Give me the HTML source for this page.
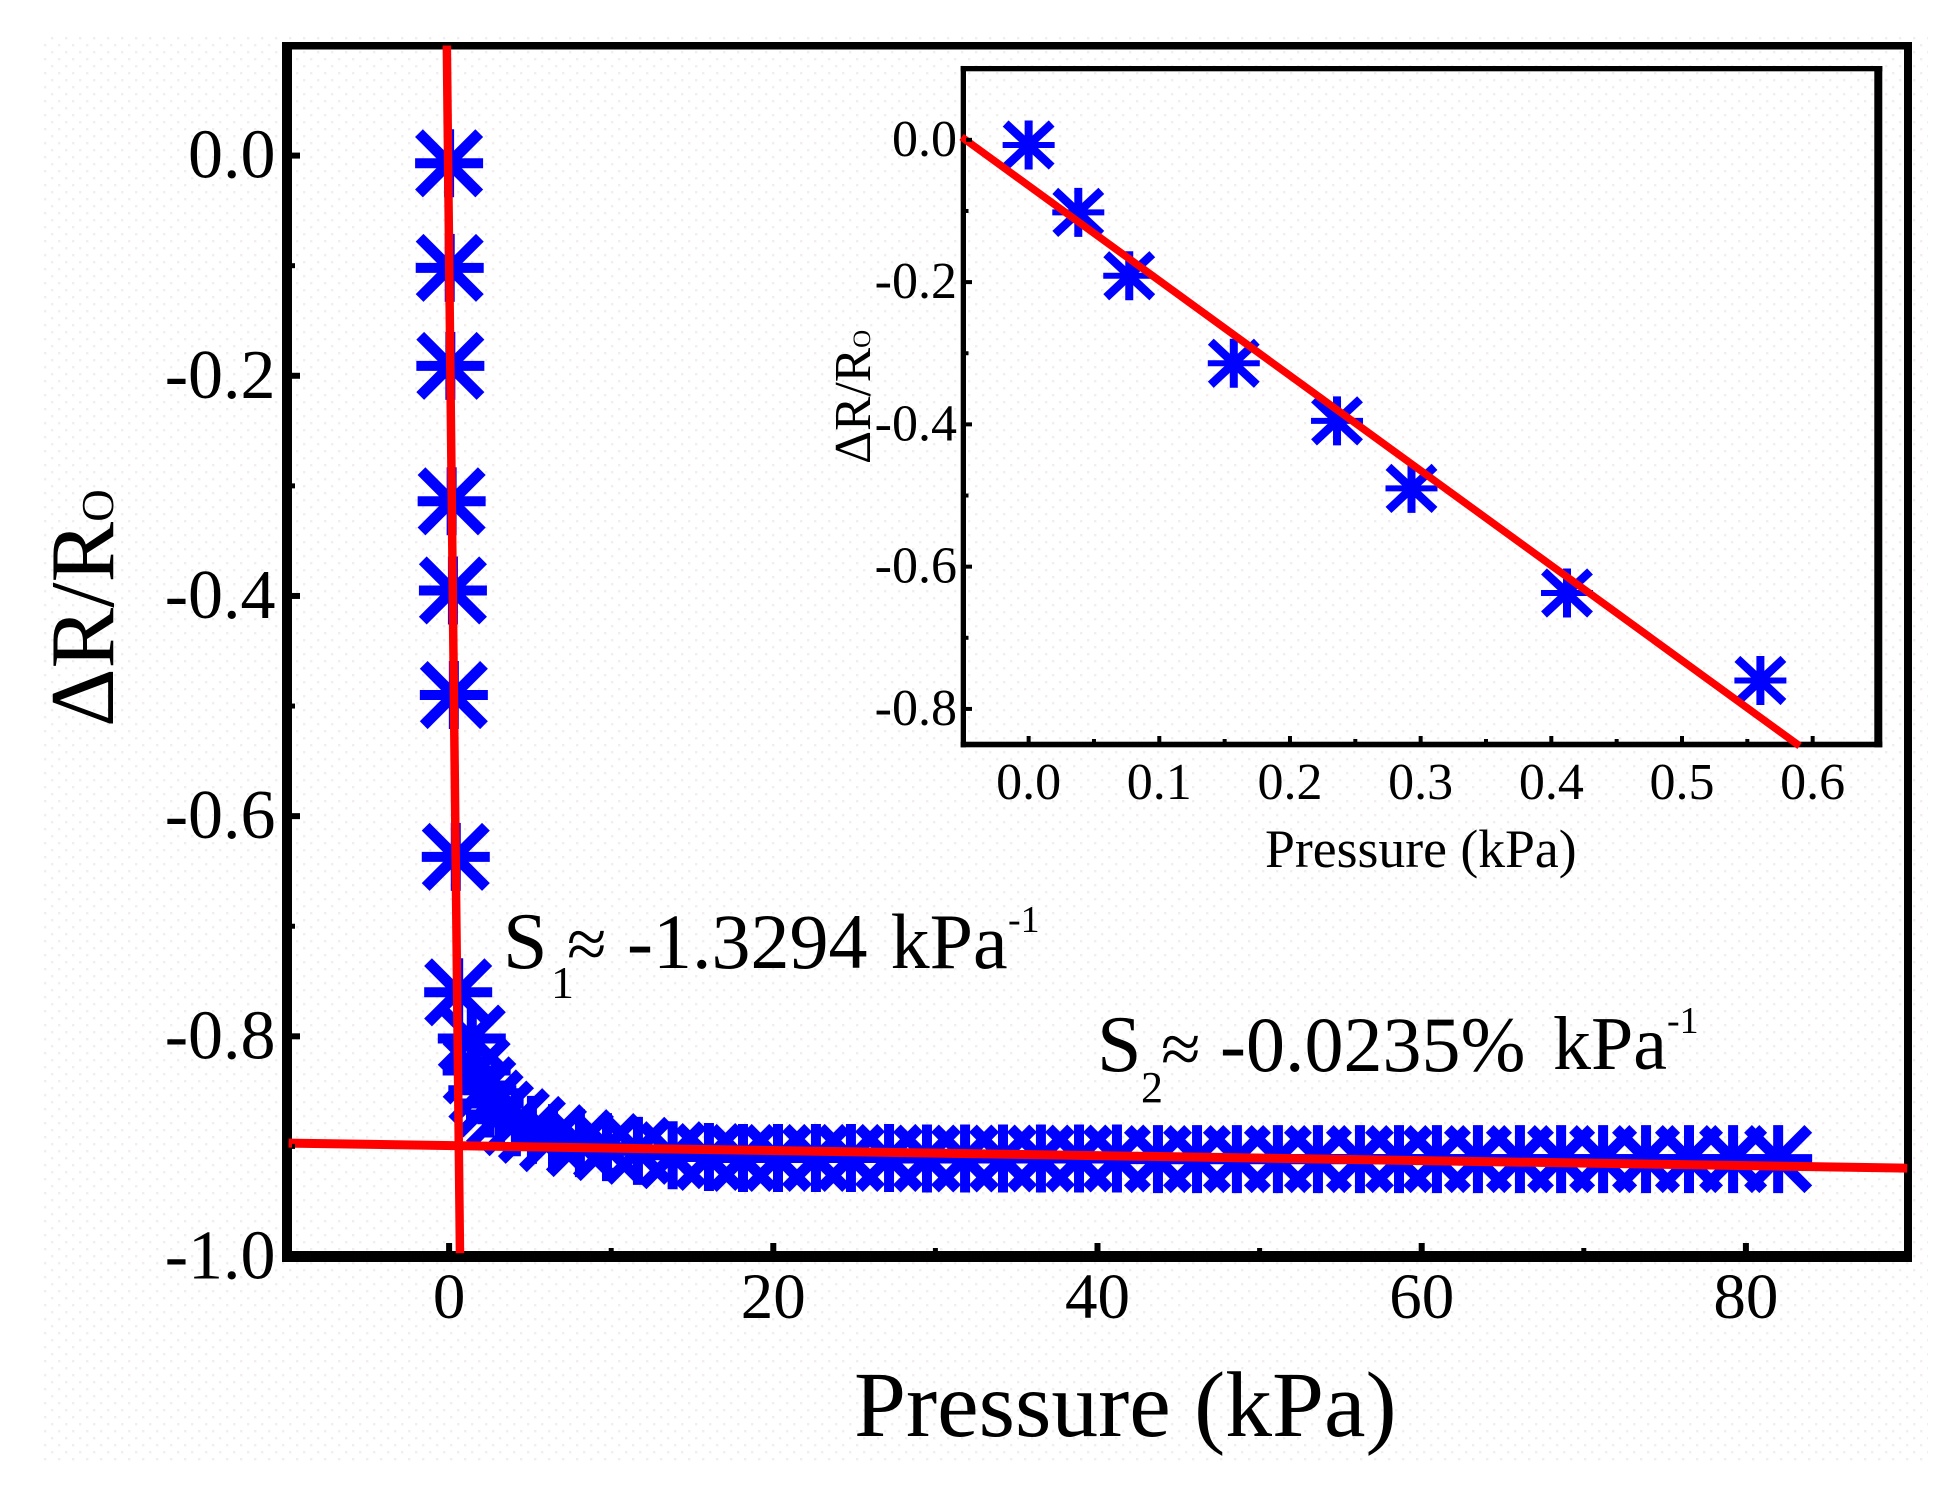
<!DOCTYPE html>
<html lang="en">
<head>
<meta charset="utf-8">
<title>Pressure response chart</title>
<style>
html,body{margin:0;padding:0;background:#fff;}
svg{display:block;}
text{font-family:"Liberation Serif","Times New Roman",serif;fill:#000;}
</style>
</head>
<body>
<svg id="chart" xmlns="http://www.w3.org/2000/svg" width="1945" height="1490" viewBox="0 0 1945 1490">
  <defs>
    <pattern id="speckle" width="14" height="14" patternUnits="userSpaceOnUse">
      <rect x="2" y="2" width="2.4" height="2.4" fill="#f3eeee"/>
      <rect x="9" y="9" width="2.4" height="2.4" fill="#f3eeee"/>
    </pattern>
  </defs>
  <rect width="1945" height="1490" fill="#fff"/>
  <rect x="40" y="33" width="1888" height="1429" fill="url(#speckle)"/>

  <g id="main-plot"></g>
  <g id="inset-plot"></g>

  <g fill="#000">
    <rect x="282" y="42" width="10" height="1220"/>
    <rect x="282" y="42" width="1630" height="7.5"/>
    <rect x="1904" y="42" width="8" height="1220"/>
    <rect x="282" y="1251" width="1630" height="11"/>
  </g>
  <g fill="#000">
    <rect x="960.7" y="66" width="5.3" height="681.3"/>
    <rect x="960.7" y="66" width="921.6" height="5.3"/>
    <rect x="1874.3" y="66" width="8" height="681.3"/>
    <rect x="960.7" y="741.7" width="921.6" height="5.6"/>
  </g>

  <g id="fit-lines"></g>
  <g id="tick-layer"></g>

  <text transform="translate(113 727) rotate(-90)" font-size="91">ΔR/R<tspan font-size="45">O</tspan></text>
  <text x="854" y="1436" font-size="93.5">Pressure (kPa)</text>
  <text transform="translate(870 464) rotate(-90)" font-size="51.5">ΔR/R<tspan font-size="25">O</tspan></text>
  <text x="1265" y="867" font-size="53.7">Pressure (kPa)</text>

  <g>
    <text x="503" y="968" font-size="80">S</text>
    <text x="551" y="998" font-size="46">1</text>
    <text x="567" y="968" font-size="72">≈</text>
    <text x="627" y="968" font-size="78">-1.3294</text>
    <text x="890.6" y="968" font-size="78">kPa</text>
    <text x="1008" y="932" font-size="38">-1</text>
  </g>
  <g>
    <text x="1097" y="1071" font-size="80">S</text>
    <text x="1141" y="1102" font-size="44">2</text>
    <text x="1161" y="1073" font-size="72">≈</text>
    <text x="1220" y="1071" font-size="78">-0.0235%</text>
    <text x="1553" y="1069" font-size="76">kPa</text>
    <text x="1667" y="1033" font-size="38">-1</text>
  </g>
</svg>

<script>
// ---- main chart data ----
const mainPressure = [0, 0.038, 0.077, 0.157, 0.236, 0.293, 0.412, 0.56, 1.4, 1.7, 2.05, 2.5, 3.14, 4.12, 5.11, 6.41, 8.07, 9.74, 11.65, 13.79, 16.03, 18.13, 20.29, 22.63, 24.79, 27.14, 29.48, 31.83, 34.17, 36.51, 38.86, 41.2, 43.73, 46.14, 48.6, 51.13, 53.6, 56.19, 58.6, 60.94, 63.47, 66.06, 68.6, 71.19, 73.84, 76.49, 79.21, 81.99];
const mainResponse = [-0.007, -0.102, -0.191, -0.314, -0.395, -0.49, -0.637, -0.76, -0.802, -0.831, -0.849, -0.861, -0.871, -0.878, -0.885, -0.8925, -0.897, -0.9006, -0.904, -0.908, -0.9096, -0.9105, -0.9105, -0.9105, -0.9105, -0.9105, -0.911, -0.911, -0.911, -0.911, -0.911, -0.911, -0.9115, -0.9115, -0.9115, -0.9115, -0.9115, -0.9115, -0.9115, -0.9115, -0.9115, -0.9115, -0.9115, -0.9115, -0.9115, -0.9115, -0.9115, -0.9115];
const fit1Pressure = [-0.14, 0.67];
const fit1Response = [0.1, -0.997];
const fit2Pressure = [-9.9, 89.95];
const fit2Response = [-0.897, -0.9197];
const mainXMajor = [0, 20, 40, 60, 80];
const mainXMajorLabels = ["0", "20", "40", "60", "80"];
const mainXMinor = [10, 30, 50, 70];
const mainYMajor = [0, -0.2, -0.4, -0.6, -0.8, -1.0];
const mainYMajorLabels = ["0.0", "-0.2", "-0.4", "-0.6", "-0.8", "-1.0"];
const mainYMinor = [-0.1, -0.3, -0.5, -0.7, -0.9];

// ---- inset chart data ----
const insetPressure = [0, 0.038, 0.077, 0.157, 0.236, 0.293, 0.412, 0.56];
const insetResponse = [-0.0073, -0.102, -0.191, -0.314, -0.395, -0.49, -0.637, -0.76];
const insetFitPressure = [-0.0513, 0.59];
const insetFitResponse = [0.004, -0.852];
const insetXMajor = [0, 0.1, 0.2, 0.3, 0.4, 0.5, 0.6];
const insetXMajorLabels = ["0.0", "0.1", "0.2", "0.3", "0.4", "0.5", "0.6"];
const insetXMinor = [0.05, 0.15, 0.25, 0.35, 0.45, 0.55];
const insetYMajor = [0, -0.2, -0.4, -0.6, -0.8];
const insetYMajorLabels = ["0.0", "-0.2", "-0.4", "-0.6", "-0.8"];
const insetYMinor = [-0.1, -0.3, -0.5, -0.7];

// ---- axis functions ----
function mainX(v){ return 287 + (v + 10) / 100 * (1908 - 287); }
function mainY(v){ return 45.5 + (0.1 - v) / 1.1 * (1256.5 - 45.5); }
function insetX(v){ return 963.3 + (v + 0.05) / 0.7 * (1878 - 963.3); }
function insetY(v){ return 68.7 + (0.1 - v) / 0.95 * (744.5 - 68.7); }

const NS = 'http://www.w3.org/2000/svg';
const mainGroup = document.getElementById('main-plot');
const insetGroup = document.getElementById('inset-plot');
const fitGroup = document.getElementById('fit-lines');
const tickGroup = document.getElementById('tick-layer');

function seg(parent, x1, y1, x2, y2, color, width){
  const l = document.createElementNS(NS, 'line');
  l.setAttribute('x1', x1);
  l.setAttribute('y1', y1);
  l.setAttribute('x2', x2);
  l.setAttribute('y2', y2);
  l.setAttribute('stroke', color);
  l.setAttribute('stroke-width', width);
  parent.appendChild(l);
  return l;
}

function marker(parent, cx, cy, hw, hh, vW, hW, dW){
  const g = document.createElementNS(NS, 'g');
  
  
  seg(g, cx, cy - hh, cx, cy + hh, '#0000ff', vW);
  seg(g, cx - hw, cy, cx + hw, cy, '#0000ff', hW);
  const dx = hw - dW * 0.35, dy = hh - dW * 0.35;
  seg(g, cx - dx, cy - dy, cx + dx, cy + dy, '#0000ff', dW);
  seg(g, cx - dx, cy + dy, cx + dx, cy - dy, '#0000ff', dW);
  parent.appendChild(g);
}

function label(str, x, y, size, anchor, name){
  const t = document.createElementNS(NS, 'text');
  t.setAttribute('x', x);
  t.setAttribute('y', y);
  t.setAttribute('font-size', size);
  t.setAttribute('text-anchor', anchor);
  
  
  t.textContent = str;
  document.getElementById('chart').appendChild(t);
}

// markers
mainPressure.forEach(function(p, i){
  marker(mainGroup, mainX(p), mainY(mainResponse[i]), 34, 34, 10, 10, 11);
});
insetPressure.forEach(function(p, i){
  marker(insetGroup, insetX(p), insetY(insetResponse[i]), 26, 24.5, 8, 6, 8.5);
});

// fit lines
const fit1 = seg(fitGroup, mainX(fit1Pressure[0]), mainY(fit1Response[0]), mainX(fit1Pressure[1]), mainY(fit1Response[1]), '#ff0000', 8.5);


const fit2 = seg(fitGroup, mainX(fit2Pressure[0]), mainY(fit2Response[0]), mainX(fit2Pressure[1]), mainY(fit2Response[1]), '#ff0000', 9);


const fit3 = seg(fitGroup, insetX(insetFitPressure[0]), insetY(insetFitResponse[0]), insetX(insetFitPressure[1]), insetY(insetFitResponse[1]), '#ff0000', 7.5);



// main ticks and labels
mainXMajor.forEach(function(v, i){
  seg(tickGroup, mainX(v), 1251, mainX(v), 1243, '#000', 6);
  label(mainXMajorLabels[i], mainX(v), 1318, 65, 'middle', 'x-tick-label');
});
mainXMinor.forEach(function(v){
  seg(tickGroup, mainX(v), 1251, mainX(v), 1248, '#000', 5);
});
mainYMajor.forEach(function(v, i){
  seg(tickGroup, 292, mainY(v), 300, mainY(v), '#000', 6);
  label(mainYMajorLabels[i], 275.5, mainY(v) + 22, 70, 'end', 'y-tick-label');
});
mainYMinor.forEach(function(v){
  seg(tickGroup, 292, mainY(v), 295, mainY(v), '#000', 5);
});

// inset ticks and labels
insetXMajor.forEach(function(v, i){
  seg(tickGroup, insetX(v), 742, insetX(v), 736, '#000', 4);
  label(insetXMajorLabels[i], insetX(v), 799, 52, 'middle', 'inset-x-tick-label');
});
insetXMinor.forEach(function(v){
  seg(tickGroup, insetX(v), 742, insetX(v), 739, '#000', 4);
});
insetYMajor.forEach(function(v, i){
  seg(tickGroup, 966, insetY(v), 972, insetY(v), '#000', 4);
  label(insetYMajorLabels[i], 957, insetY(v) + 16, 52, 'end', 'inset-y-tick-label');
});
insetYMinor.forEach(function(v){
  seg(tickGroup, 966, insetY(v), 968.5, insetY(v), '#000', 4);
});
</script>
</body>
</html>
